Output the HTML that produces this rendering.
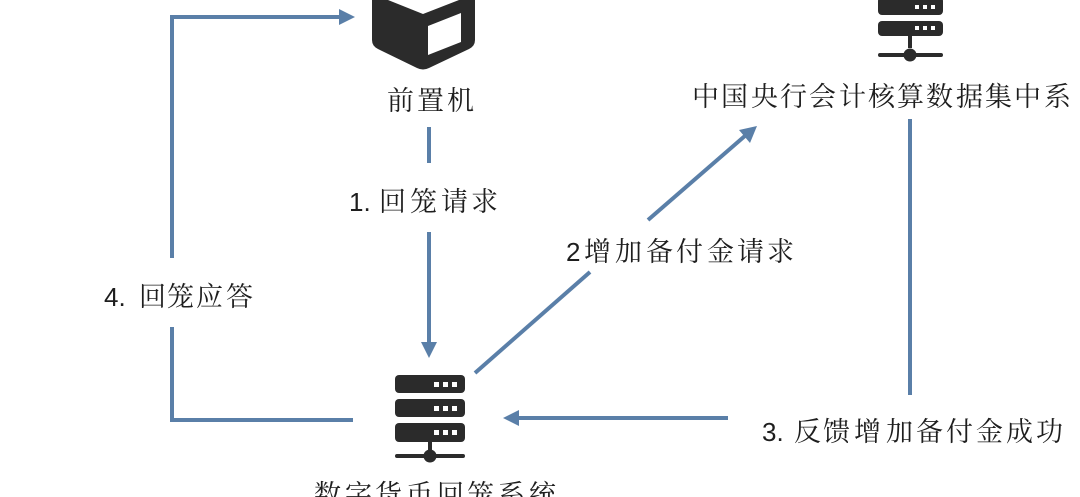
<!DOCTYPE html>
<html>
<head>
<meta charset="utf-8">
<style>
html,body{margin:0;padding:0;background:#fff;}
body{width:1080px;height:497px;overflow:hidden;position:relative;}
svg{position:absolute;left:0;top:0;}
.cjk{font-family:"Liberation Serif","Noto Serif CJK SC","Noto Sans CJK SC",serif;font-size:27px;fill:#1e1e1e;}
.num{font-family:"Liberation Sans","Noto Sans CJK SC",sans-serif;font-size:26px;fill:#1e1e1e;}
</style>
</head>
<body>
<svg width="1080" height="497" viewBox="0 0 1080 497" xmlns="http://www.w3.org/2000/svg">
  <!-- connectors -->
  <g stroke="#5a7fa8" stroke-width="4" fill="none" stroke-linecap="butt" stroke-linejoin="miter">
    <!-- loop 4 -->
    <polyline points="353,420 172,420 172,327"/>
    <polyline points="172,258 172,17 340,17"/>
    <!-- 1 vertical -->
    <line x1="429" y1="127" x2="429" y2="163"/>
    <line x1="429" y1="232" x2="429" y2="343"/>
    <!-- 2 diagonal -->
    <line x1="475" y1="373" x2="590" y2="272"/>
    <line x1="648" y1="220" x2="746" y2="135"/>
    <!-- right vertical -->
    <line x1="910" y1="119" x2="910" y2="395"/>
    <!-- 3 horizontal -->
    <line x1="728" y1="418" x2="518" y2="418"/>
  </g>
  <g fill="#5a7fa8">
    <polygon points="355,17 339,9 339,25"/>
    <polygon points="429,358 421,342 437,342"/>
    <polygon points="757,126 750,143 739,130"/>
    <polygon points="503,418 519,410 519,426"/>
  </g>

  <!-- cube icon (前置机) -->
  <g>
    <path d="M372,0 L372,40 Q372,46 378,49 L417,68 Q423,71 429,68 L469,49 Q475,46 475,40 L475,0 Z" fill="#2b2b2b"/>
    <polygon points="388,0 423,14 459,0" fill="#fff"/>
    <polygon points="428,26 461,13 461,42 428,55" fill="#fff"/>
  </g>

  <!-- top-right server icon -->
  <g fill="#2b2b2b">
    <rect x="878" y="-3" width="65" height="18" rx="4"/>
    <rect x="878" y="21" width="65" height="15" rx="4"/>
    <rect x="908" y="36" width="4" height="12"/>
    <circle cx="910" cy="55" r="6.5"/>
    <rect x="878" y="53" width="65" height="4" rx="2"/>
  </g>
  <g fill="#fff">
    <rect x="915" y="5" width="4" height="4"/>
    <rect x="923" y="5" width="4" height="4"/>
    <rect x="931" y="5" width="4" height="4"/>
    <rect x="915" y="26" width="4" height="4"/>
    <rect x="923" y="26" width="4" height="4"/>
    <rect x="931" y="26" width="4" height="4"/>
  </g>

  <!-- bottom server icon -->
  <g fill="#2b2b2b">
    <rect x="395" y="375" width="70" height="18" rx="4"/>
    <rect x="395" y="399" width="70" height="18" rx="4"/>
    <rect x="395" y="423" width="70" height="19" rx="4"/>
    <rect x="428" y="442" width="4" height="9"/>
    <circle cx="430" cy="456" r="6.5"/>
    <rect x="395" y="454" width="70" height="4" rx="2"/>
  </g>
  <g fill="#fff">
    <rect x="434" y="382" width="5" height="5"/>
    <rect x="443" y="382" width="5" height="5"/>
    <rect x="452" y="382" width="5" height="5"/>
    <rect x="434" y="406" width="5" height="5"/>
    <rect x="443" y="406" width="5" height="5"/>
    <rect x="452" y="406" width="5" height="5"/>
    <rect x="434" y="430" width="5" height="5"/>
    <rect x="443" y="430" width="5" height="5"/>
    <rect x="452" y="430" width="5" height="5"/>
  </g>

  <!-- labels -->
  <text class="cjk" x="387 417 447" y="110">前置机</text>
  <text class="cjk" x="692 721 751 780 809 839 868 897 926 956 985 1014 1044" y="106">中国央行会计核算数据集中系</text>

  <text class="num" x="349" y="211">1.</text>
  <text class="cjk" x="379 410 441 471" y="211">回笼请求</text>

  <text class="num" x="566" y="261">2</text>
  <text class="cjk" x="584 615 646 676 707 737 767" y="261">增加备付金请求</text>

  <text class="num" x="104" y="306">4.</text>
  <text class="cjk" x="139 167 196 226" y="306">回笼应答</text>

  <text class="num" x="762" y="441">3.</text>
  <text class="cjk" x="794 823 854 886 916 946 976 1006 1036" y="441">反馈增加备付金成功</text>

  <text class="cjk" x="314 345 375 406 437 467 498 529" y="504">数字货币回笼系统</text>
</svg>
</body>
</html>
